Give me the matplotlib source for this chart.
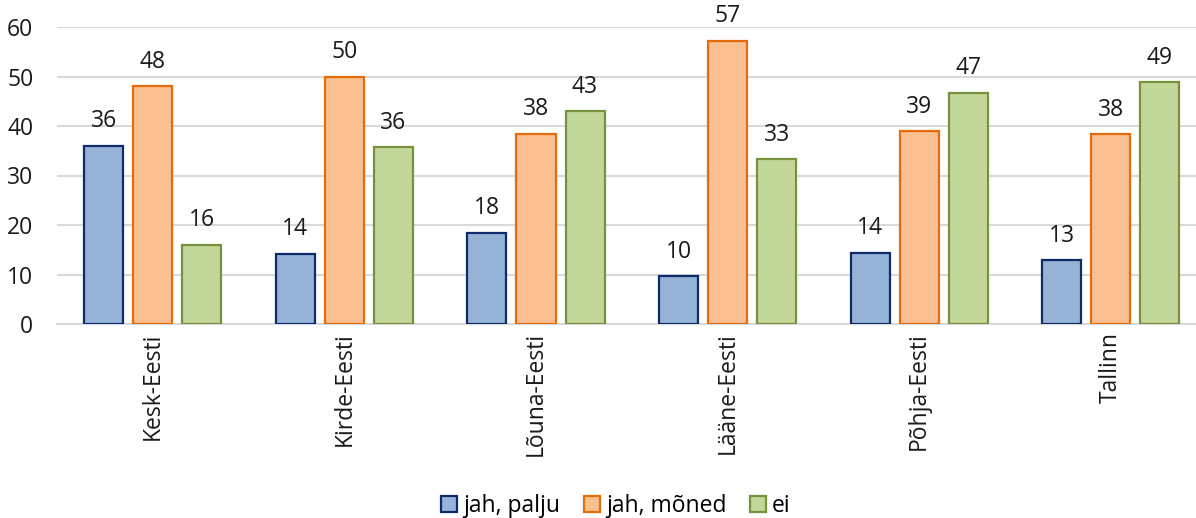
import matplotlib
matplotlib.use("Agg")
import matplotlib.pyplot as plt
import numpy as np

categories = ["Kesk-Eesti", "Kirde-Eesti", "Lõuna-Eesti", "Lääne-Eesti", "Põhja-Eesti", "Tallinn"]
series_names = ["jah, palju", "jah, mõned", "ei"]
jah_palju = [36.0, 14.2, 18.4, 9.6, 14.4, 12.9]
jah_moned = [48.0, 50.0, 38.4, 57.2, 38.9, 38.3]
ei = [16.0, 35.7, 43.0, 33.3, 46.7, 48.8]
y_ticks = [0, 10, 20, 30, 40, 50, 60]

fills = ["#95B3D7", "#FAC090", "#C4D79B"]
edges = ["#0D2A6B", "#E46C0A", "#76923C"]

plt.rcParams['font.family'] = ['Open Sans', 'DejaVu Sans']
FS = 16.5

fig = plt.figure(figsize=(11.96, 5.18), dpi=100)
ax = fig.add_axes([57/1196, 194/518, (1196-57)/1196, 297/518])

x = np.arange(len(categories))
pitch = 0.256
width = 0.204
data = [jah_palju, jah_moned, ei]
for i, (vals, name) in enumerate(zip(data, series_names)):
    xs = x + (i - 1) * pitch
    ax.bar(xs, vals, width=width, color=fills[i], edgecolor=edges[i],
           linewidth=1.6, label=name, zorder=3)
    for xx, v in zip(xs, vals):
        ax.annotate(f"{v:.0f}", (xx, v), xytext=(0, 9), textcoords="offset points",
                    ha="center", va="bottom", fontsize=FS, color="#1a1a1a")

ax.set_ylim(0, 60)
ax.set_xlim(-0.5, -0.5 + (1196 - 57) / 191.6)
ax.set_yticks(y_ticks)
ax.set_xticks(x)
ax.set_xticklabels(categories, rotation=90, fontsize=FS, color="#1a1a1a")
ax.tick_params(axis="y", labelsize=FS, labelcolor="#1a1a1a", length=0, pad=17)
ax.tick_params(axis="x", length=0, pad=6)
ax.grid(axis="y", color="#D9D9D9", linewidth=1.5, zorder=0)
for s in ["top", "right", "left"]:
    ax.spines[s].set_visible(False)
ax.spines["bottom"].set_color("#D9D9D9")
ax.spines["bottom"].set_linewidth(1.5)

leg = fig.legend(loc="center", bbox_to_anchor=(616/1196, 1 - 506/518), ncol=3,
                 frameon=False, fontsize=FS, handlelength=0.7, handleheight=0.7,
                 handletextpad=0.25, columnspacing=1.05, borderpad=0.0)

fig.savefig("out.png", dpi=100)
